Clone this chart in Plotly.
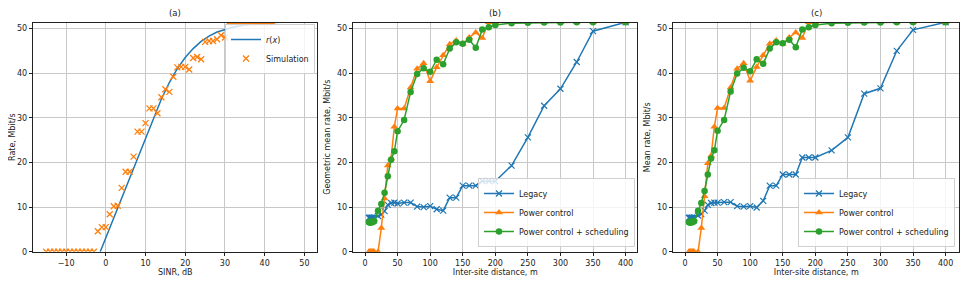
import plotly.graph_objects as go

# ---------------- Panel (a) data ----------------
sinr_curve = [-1.4, 0, 2, 4, 6, 8, 10, 12, 14, 16, 18, 20, 22, 24, 26, 28, 30, 32, 35, 40, 45, 50]
rate_curve = [0, 3.1, 7.6, 12.1, 16.6, 21.1, 25.5, 30.0, 34.2, 37.9, 41.0, 43.5, 45.5, 47.1,
              48.3, 49.2, 49.8, 50.3, 50.8, 51.25, 51.45, 51.5]

sinr_sim = list(range(-15, 43))
rate_sim = [0] * 13 + [4.6, 5.5, 5.5, 8.4, 10.2, 10.3, 14.3, 17.9, 17.9, 21.3, 26.9, 26.9, 28.8,
                       32.1, 32.1, 31.0, 34.6, 36.4, 35.8, 39.2, 41.3, 41.4, 41.4, 40.8, 43.4,
                       43.6, 43.1, 47.0, 47.2, 47.2, 47.6, 48.5, 48.0] + [51.4] * 12

# ---------------- Panels (b) and (c) data ----------------
isd = [6, 7, 8, 9, 10, 11, 12, 13, 14, 20, 25, 30, 35, 40, 45, 50, 60, 70, 80, 90, 100, 110,
       120, 130, 140, 150, 160, 170, 180, 190, 200, 225, 250, 275, 300, 325, 350, 400]

gm_legacy = [7.6, 7.5, 7.6, 7.5, 7.6, 7.6, 7.5, 7.6, 7.6, 8.0, 8.3, 9.1, 10.5, 10.9, 11.0, 10.8,
             11.0, 11.0, 10.1, 10.0, 10.2, 9.5, 9.2, 12.1, 12.1, 14.8, 14.8, 14.8, 15.8, 15.8,
             15.8, 19.3, 25.6, 32.7, 36.5, 42.5, 49.4, 51.4]
gm_power = [0, 0, 0, 0, 0, 0, 0, 0, 0, 0, 5.3, 11.9, 19.3, 20.9, 28.0, 32.1, 32.1, 36.8, 41.0,
            42.2, 38.2, 41.3, 44.0, 46.5, 47.3, 46.6, 48.0, 49.1, 47.9, 51.4, 51.4, 51.4, 51.4,
            51.4, 51.4, 51.4, 51.4, 51.4]
gm_sched = [6.6, 6.7, 6.5, 6.6, 6.7, 6.6, 6.7, 6.8, 6.8, 9.2, 10.7, 13.2, 16.9, 20.6, 22.5, 27.0,
            29.5, 35.8, 39.8, 41.1, 40.3, 43.0, 42.0, 45.5, 46.9, 46.6, 47.5, 45.7, 49.8, 50.3,
            50.8, 51.2, 51.3, 51.35, 51.35, 51.4, 51.4, 51.4]

mean_legacy = [7.6, 7.5, 7.6, 7.5, 7.6, 7.6, 7.5, 7.6, 7.6, 8.1, 8.4, 9.2, 10.5, 10.9, 11.0, 11.0,
               11.1, 11.1, 10.2, 10.1, 10.2, 9.9, 11.4, 14.8, 14.8, 17.3, 17.3, 17.3, 21.1, 21.1,
               21.1, 22.7, 25.6, 35.4, 36.6, 45.0, 49.7, 51.4]
mean_power = [0, 0, 0, 0, 0, 0, 0, 0, 0, 0, 5.3, 12.4, 19.8, 21.5, 28.0, 32.2, 32.2, 36.8, 41.0,
              42.2, 38.3, 41.4, 44.0, 46.6, 47.3, 46.6, 48.0, 49.1, 47.9, 51.4, 51.4, 51.4, 51.4,
              51.4, 51.4, 51.4, 51.4, 51.4]
mean_sched = [6.6, 6.7, 6.5, 6.6, 6.7, 6.6, 6.7, 6.8, 6.8, 9.2, 10.9, 13.6, 17.3, 20.9, 22.7,
              27.1, 29.5, 35.9, 39.9, 41.2, 40.4, 43.1, 42.1, 45.5, 46.9, 46.7, 47.5, 45.8, 49.8,
              50.3, 50.8, 51.2, 51.3, 51.35, 51.35, 51.4, 51.4, 51.4]

BLUE, ORANGE, GREEN = "#1f77b4", "#ff7f0e", "#2ca02c"
FONT = "DejaVu Sans"

# The page body has an 8px margin; size the figure so it fits the 969x285 window.
OFF = 8
W, H = 969 - 2 * OFF, 285 - 2 * OFF


def px(xr):  # screenshot x pixel -> paper fraction
    return (xr - OFF) / W


def py(yr):  # screenshot y pixel -> paper fraction
    return 1 - (yr - OFF) / H


fig = go.Figure()

# Panel (a)
fig.add_trace(go.Scatter(x=sinr_curve, y=rate_curve, mode="lines", name="<i>r</i>(<i>x</i>)",
                         line=dict(color=BLUE, width=1.5), xaxis="x", yaxis="y", legend="legend"))
fig.add_trace(go.Scatter(x=sinr_sim, y=rate_sim, mode="markers", name="Simulation",
                         marker=dict(symbol="x-thin", size=6, color=ORANGE,
                                     line=dict(width=1.3, color=ORANGE)),
                         xaxis="x", yaxis="y", legend="legend"))


def add_panel(xa, ya, leg, legacy, power, sched):
    fig.add_trace(go.Scatter(x=isd, y=legacy, mode="lines+markers", name="Legacy",
                             line=dict(color=BLUE, width=1.5),
                             marker=dict(symbol="x-thin", size=6, color=BLUE,
                                         line=dict(width=1.2, color=BLUE)),
                             xaxis=xa, yaxis=ya, legend=leg))
    fig.add_trace(go.Scatter(x=isd, y=power, mode="lines+markers", name="Power control",
                             line=dict(color=ORANGE, width=1.5),
                             marker=dict(symbol="triangle-up", size=7, color=ORANGE),
                             xaxis=xa, yaxis=ya, legend=leg))
    fig.add_trace(go.Scatter(x=isd, y=sched, mode="lines+markers",
                             name="Power control + scheduling",
                             line=dict(color=GREEN, width=1.5),
                             marker=dict(symbol="circle", size=6.5, color=GREEN),
                             xaxis=xa, yaxis=ya, legend=leg))


add_panel("x2", "y2", "legend2", gm_legacy, gm_power, gm_sched)
add_panel("x3", "y3", "legend3", mean_legacy, mean_power, mean_sched)

tick_font = dict(family=FONT, size=8, color="#222")
title_font = dict(family=FONT, size=8, color="#222")


def xaxis(domain, rng, dtick, title, anchor):
    return dict(domain=domain, range=rng, dtick=dtick, tick0=0, anchor=anchor,
                showgrid=True, gridcolor="#c8c8c8", gridwidth=0.8, zeroline=False,
                showline=True, linecolor="#222", linewidth=1, mirror=True,
                ticks="outside", ticklen=3.5, tickwidth=0.8, tickcolor="#222",
                tickfont=tick_font, title=dict(text=title, font=title_font, standoff=2),
                automargin=False)


def yaxis(domain, title, anchor):
    return dict(domain=domain, range=[0, 51.3], dtick=10, tick0=0, anchor=anchor,
                showgrid=True, gridcolor="#c8c8c8", gridwidth=0.8, zeroline=False,
                showline=True, linecolor="#222", linewidth=1, mirror=True,
                ticks="outside", ticklen=3.5, tickwidth=0.8, tickcolor="#222",
                tickfont=tick_font, title=dict(text=title, font=title_font, standoff=5),
                automargin=False)


ydom = [py(251.7), py(22.7)]
dom_a = [px(33.3), px(317.3)]
dom_b = [px(353.3), px(637.3)]
dom_c = [px(673.3), px(959.3)]

legend_style = dict(font=dict(family=FONT, size=8, color="#222"), bgcolor="rgba(255,255,255,0.8)",
                    bordercolor="#d0d0d0", borderwidth=1, tracegroupgap=0, itemwidth=30)

fig.update_layout(
    width=W, height=H, margin=dict(l=0, r=0, t=0, b=0),
    paper_bgcolor="white", plot_bgcolor="white",
    font=dict(family=FONT, size=8, color="#222"),
    xaxis=xaxis(dom_a, [-18.25, 53.25], 10, "SINR, dB", "y"),
    yaxis=yaxis(ydom, "Rate, Mbit/s", "x"),
    xaxis2=xaxis(dom_b, [-18.0, 418.0], 50, "Inter-site distance, m", "y2"),
    yaxis2=yaxis(ydom, "Geometric mean rate, Mbit/s", "x2"),
    xaxis3=xaxis(dom_c, [-18.0, 421.0], 50, "Inter-site distance, m", "y3"),
    yaxis3=yaxis(ydom, "Mean rate, Mbit/s", "x3"),
    legend=dict(x=px(315), y=py(24), xanchor="right", yanchor="top", **legend_style),
    legend2=dict(x=px(635), y=py(247), xanchor="right", yanchor="bottom", **legend_style),
    legend3=dict(x=px(955), y=py(247), xanchor="right", yanchor="bottom", **legend_style),
    annotations=[
        dict(text=t, x=(d[0] + d[1]) / 2, y=py(12.7), xref="paper", yref="paper",
             showarrow=False, font=dict(family=FONT, size=8.5, color="#222"),
             xanchor="center", yanchor="middle")
        for t, d in [("(a)", dom_a), ("(b)", dom_b), ("(c)", dom_c)]
    ],
)

fig.write_html("out.html")
